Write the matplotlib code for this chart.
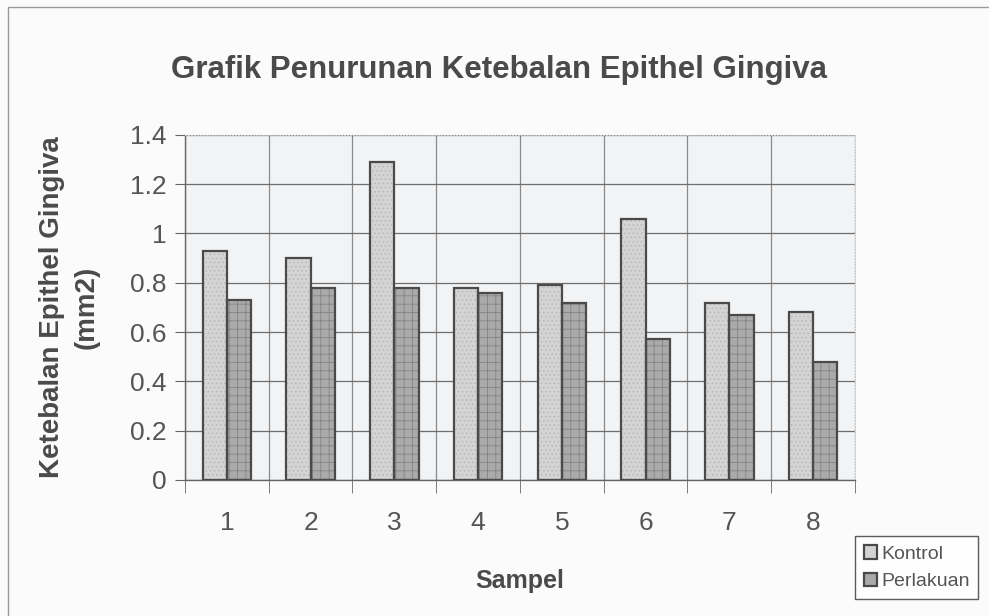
import matplotlib.pyplot as plt
import matplotlib.patches as mpatches
import numpy as np

plt.rcParams['font.family'] = ['Liberation Sans', 'DejaVu Sans']
plt.rcParams['hatch.linewidth'] = 0.6

samples = [1, 2, 3, 4, 5, 6, 7, 8]
kontrol = [0.93, 0.90, 1.29, 0.78, 0.79, 1.06, 0.72, 0.68]
perlakuan = [0.73, 0.78, 0.78, 0.76, 0.72, 0.57, 0.67, 0.48]
yticks = [0, 0.2, 0.4, 0.6, 0.8, 1, 1.2, 1.4]
ytick_labels = ['0', '0.2', '0.4', '0.6', '0.8', '1', '1.2', '1.4']

fig = plt.figure(figsize=(9.89, 6.16), dpi=100)
fig.patch.set_facecolor('#fbfbfb')
ax = fig.add_axes([0.187, 0.2208, 0.6775, 0.5602])
ax.set_facecolor('#f2f3f5')

x = np.array(samples)
w = 0.29

# fill + pattern, then a dark outline on top
ax.bar(x - w / 2, kontrol, w, color='#d4d4d4', edgecolor='#b8b8b8', hatch='....', linewidth=0, zorder=3)
ax.bar(x + w / 2, perlakuan, w, color='#aaaaaa', edgecolor='#838383', hatch='++', linewidth=0, zorder=3)
b1 = ax.bar(x - w / 2, kontrol, w, fill=False, edgecolor='#4a4a4a', linewidth=1.6, zorder=4)
b2 = ax.bar(x + w / 2, perlakuan, w, fill=False, edgecolor='#4a4a4a', linewidth=1.6, zorder=4)

ax.set_xlim(0.5, 8.5)
ax.set_ylim(0, 1.4)
ax.set_yticks(yticks)
ax.set_yticklabels(ytick_labels)
ax.set_xticks(samples)
ax.set_xticks(np.arange(0.5, 9.0, 1.0), minor=True)

ax.grid(axis='y', which='major', color='#6e6e6e', linewidth=0.9, zorder=1)
ax.grid(axis='x', which='minor', color='#8a8a8a', linewidth=0.9, zorder=1)
ax.set_axisbelow(True)

ax.tick_params(axis='x', which='major', length=0, labelsize=19, labelcolor='#555555', pad=22)
ax.tick_params(axis='x', which='minor', length=9, color='#666666', direction='out')
ax.tick_params(axis='y', length=7, color='#666666', labelsize=19, labelcolor='#555555', pad=6)

for s in ['left', 'bottom']:
    ax.spines[s].set_color('#666666')
    ax.spines[s].set_linewidth(1.0)
for s in ['top', 'right']:
    ax.spines[s].set_color('#c8c8c8')
    ax.spines[s].set_linestyle(':')

ax.set_xlabel('Sampel', fontsize=18, fontweight='bold', color='#4a4a4a', labelpad=25)
ax.set_ylabel('Ketebalan Epithel Gingiva\n(mm2)', fontsize=20, fontweight='bold',
              color='#4a4a4a', labelpad=22, linespacing=1.45)

fig.text(0.505, 0.886, 'Grafik Penurunan Ketebalan Epithel Gingiva', ha='center', va='center',
         fontsize=22.5, fontweight='bold', color='#4a4a4a')

fig.legend([b1, b2], ['Kontrol', 'Perlakuan'], loc='lower right',
           bbox_to_anchor=(0.999, 0.012), fontsize=14, frameon=True, fancybox=False,
           edgecolor='#333333', handlelength=0.7, handleheight=0.7, handletextpad=0.2,
           borderpad=0.45, labelspacing=0.5, labelcolor='#555555')
leg_handles = fig.legends[0].legend_handles
leg_handles[0].set_facecolor('#d4d4d4')
leg_handles[0].set_fill(True)
leg_handles[1].set_facecolor('#aaaaaa')
leg_handles[1].set_fill(True)

# chart border
fig.add_artist(mpatches.Rectangle((8 / 989, -0.05), 1.1, 1 - 7 / 616 + 0.05,
                                  transform=fig.transFigure, fill=False,
                                  edgecolor='#9a9a9a', linewidth=1.0))

fig.savefig('out.png', dpi=100)
